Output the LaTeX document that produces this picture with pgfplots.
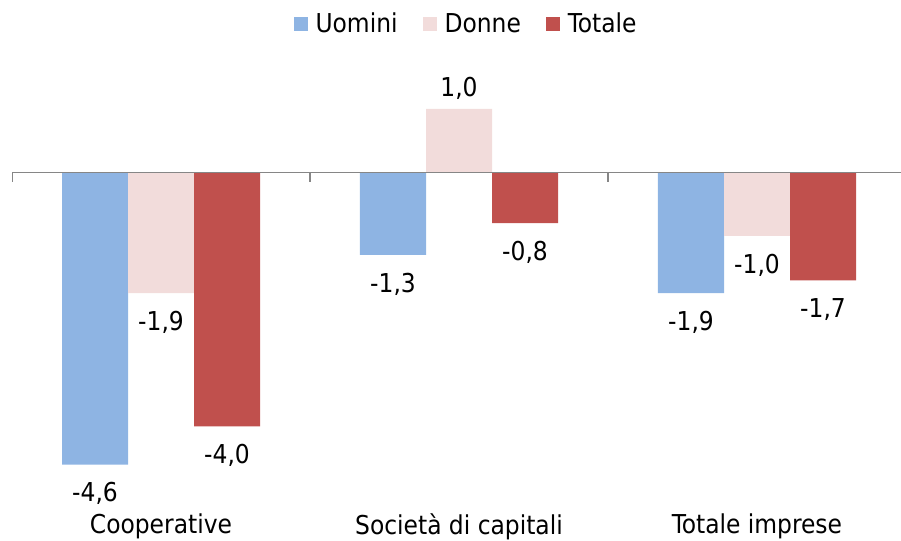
\documentclass[border=0pt]{standalone}
\usepackage{fontspec}
\setmainfont{DejaVu Sans Condensed}
\usepackage{pgfplots}
\pgfplotsset{compat=1.18}
\usepackage{pgfplotstable}
\definecolor{cU}{HTML}{8EB4E3}
\definecolor{cD}{HTML}{F2DCDB}
\definecolor{cT}{HTML}{C0504D}
\definecolor{cAx}{HTML}{868686}
\pgfplotstableread{
x u d t ul dl tl
0 -4.6 -1.9 -4.0 -4,6 -1,9 -4,0
1 -1.3 1.0 -0.8 -1,3 1,0 -0,8
2 -1.9 -1.0 -1.7 -1,9 -1,0 -1,7
}\data
\begin{document}
\begin{tikzpicture}
\useasboundingbox (-6pt,-25.5pt) rectangle (444.5pt,245pt);
\begin{axis}[
  at={(0,0)}, anchor=south west,
  scale only axis, width=447pt, height=206.5pt,
  xmin=-0.5, xmax=2.5, ymin=-5, ymax=1.5,
  axis line style={draw=none},
  ytick=\empty, xtick={0,1,2},
  xticklabels={Cooperative, Società di capitali, Totale imprese},
  major tick length=0pt,
  xticklabel style={font=\fontsize{13}{15}\selectfont, yshift=-8.5pt},
  ybar=0pt, bar width=33pt,
  nodes near coords, point meta=explicit symbolic,
  visualization depends on={rawy \as \rawy},
  every node near coord/.append style={font=\fontsize{13}{15}\selectfont, text=black,
    /utils/exec={\ifdim\rawy pt<0pt \def\myanch{north}\def\mysh{-5.5pt}\else\def\myanch{south}\def\mysh{1pt}\fi},
    anchor=\myanch, yshift=\mysh},
  legend columns=3,
  legend style={draw=none, at={(0.509,1.128)}, anchor=center,
    font=\fontsize{13}{15}\selectfont,
    /tikz/every odd column/.append style={column sep=2pt},
    /tikz/every even column/.append style={column sep=10.5pt}},
  legend image code/.code={\fill[#1] (0pt,-3.5pt) rectangle (7pt,3.5pt);},
]
\addplot[fill=cU, draw=none] table[x=x, y=u, meta=ul] {\data};
\addplot[fill=cD, draw=none] table[x=x, y=d, meta=dl] {\data};
\addplot[fill=cT, draw=none] table[x=x, y=t, meta=tl] {\data};
\legend{Uomini, Donne, Totale}
\draw[cAx, line width=0.75pt] (axis cs:-0.5,0) -- (axis cs:2.5,0);
\draw[cAx, line width=0.75pt] (axis cs:-0.5,0) -- ([yshift=-5pt]axis cs:-0.5,0);
\draw[cAx, line width=0.75pt] (axis cs:0.5,0) -- ([yshift=-5pt]axis cs:0.5,0);
\draw[cAx, line width=0.75pt] (axis cs:1.5,0) -- ([yshift=-5pt]axis cs:1.5,0);
\draw[cAx, line width=0.75pt] (axis cs:2.5,0) -- ([yshift=-5pt]axis cs:2.5,0);
\end{axis}
\end{tikzpicture}
\end{document}
